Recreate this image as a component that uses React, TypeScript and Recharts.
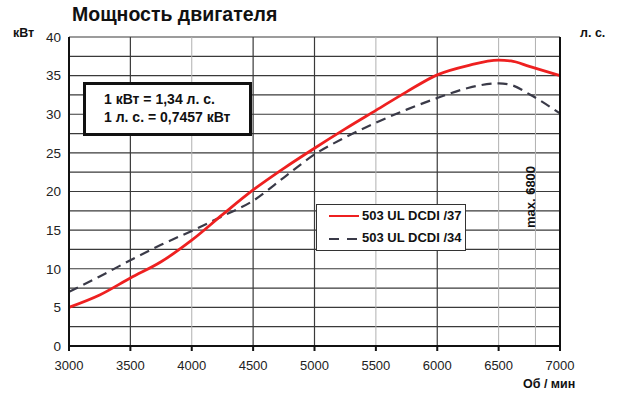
import React from "react";
import {
  LineChart,
  Line,
  XAxis,
  YAxis,
  ReferenceLine,
  ReferenceArea,
} from "recharts";

// rpm points
const rpm = [3000, 3250, 3500, 3750, 4000, 4250, 4500, 4750, 5000, 5250, 5500, 5750, 6000, 6250, 6500, 6600, 6750, 7000];
const dcdi37 = [5, 6.6, 8.8, 10.9, 13.7, 17, 20.2, 23, 25.6, 28.1, 30.5, 32.9, 35.1, 36.3, 37, 36.9, 36.2, 35];
const dcdi34 = [7, 9, 11.1, 13.1, 14.9, 16.8, 18.8, 21.8, 24.8, 27, 28.9, 30.6, 32.1, 33.4, 34, 33.8, 32.6, 30.1];

const xTicks = [3000, 3500, 4000, 4500, 5000, 5500, 6000, 6500, 7000];
const kwTicks = [0, 5, 10, 15, 20, 25, 30, 35, 40];
const hpTicks = [0, 5, 10, 15, 20, 25, 30, 35, 40, 45, 50];
const hGrid = [2.5, 5, 7.5, 10, 12.5, 15, 17.5, 20, 22.5, 25, 27.5, 30, 32.5, 35, 37.5, 40];
const darkV = [3500, 4500, 5000, 6000];
const lightV = [4000, 5500, 6500, 6800];

const data = rpm.map((r, i) => ({ rpm: r, a: dcdi37[i], b: dcdi34[i] }));

const font = "'Liberation Sans', Arial, sans-serif";

export default function App() {
  return (
    <div style={{ position: "absolute", left: 0, top: 0, width: 620, height: 409, background: "#fff", fontFamily: font }}>
      <LineChart width={620} height={409} data={data} margin={{ top: 37, right: 0, left: 9, bottom: 33 }}>
        {hGrid.map((v) => (
          <ReferenceLine key={"h" + v} yAxisId="kw" y={v} stroke="#3a3a3a" strokeWidth={1.2} />
        ))}
        {darkV.map((v) => (
          <ReferenceLine key={"d" + v} yAxisId="kw" x={v} stroke="#3a3a3a" strokeWidth={1.2} />
        ))}
        {lightV.map((v) => (
          <ReferenceLine key={"l" + v} yAxisId="kw" x={v} stroke="#b0b0b0" strokeWidth={1} />
        ))}
        <ReferenceArea yAxisId="kw" x1={6650} x2={6985} y1={11.5} y2={23.8} fill="#fff" fillOpacity={1} stroke="none" />
        <XAxis
          dataKey="rpm"
          type="number"
          domain={[3000, 7000]}
          ticks={xTicks}
          tickSize={5}
          tickMargin={10}
          stroke="#111"
          strokeWidth={2}
          tick={{ fill: "#222", fontSize: 13, fontFamily: font }}
          height={30}
        />
        <YAxis
          yAxisId="kw"
          orientation="left"
          domain={[0, 40]}
          ticks={kwTicks}
          width={60}
          tickLine={false}
          tickSize={4}
          tickMargin={4}
          stroke="#111"
          strokeWidth={2}
          tick={{ fill: "#222", fontSize: 13.5, fontFamily: font }}
        />
        <YAxis
          yAxisId="hp"
          orientation="right"
          domain={[0, 54.6]}
          ticks={hpTicks}
          width={60}
          tickSize={5}
          tickMargin={7}
          stroke="#111"
          strokeWidth={2}
          tick={{ fill: "#222", fontSize: 13.5, fontFamily: font, textAnchor: "start" }}
        />
        <Line yAxisId="kw" dataKey="b" type="monotone" stroke="#3a3a48" strokeWidth={2.2} strokeDasharray="10 6" dot={false} isAnimationActive={false} />
        <Line yAxisId="kw" dataKey="a" type="monotone" stroke="#ee2020" strokeWidth={2.8} dot={false} isAnimationActive={false} />
      </LineChart>

      <div style={{ position: "absolute", left: 72, top: 3, fontSize: 19.5, fontWeight: "bold", color: "#111", whiteSpace: "nowrap" }}>Мощность двигателя</div>
      <div style={{ position: "absolute", left: 13, top: 26, fontSize: 12.5, fontWeight: "bold", color: "#111" }}>кВт</div>
      <div style={{ position: "absolute", left: 580, top: 26, fontSize: 12.5, fontWeight: "bold", color: "#111", whiteSpace: "nowrap" }}>л. с.</div>
      <div style={{ position: "absolute", left: 523, top: 377, fontSize: 12.5, fontWeight: "bold", color: "#111", whiteSpace: "nowrap" }}>Об / мин</div>

      <div
        style={{
          position: "absolute", left: 83, top: 82, width: 163, height: 48,
          border: "3px solid #111", background: "#fff", fontSize: 14, fontWeight: "bold", color: "#111",
          boxSizing: "content-box", whiteSpace: "nowrap",
        }}
      >
        <div style={{ position: "absolute", left: 18, top: 6 }}>1 кВт = 1,34 л. с.</div>
        <div style={{ position: "absolute", left: 18, top: 24 }}>1 л. с. = 0,7457 кВт</div>
      </div>

      <div
        style={{
          position: "absolute", left: 316, top: 204, width: 148, height: 45,
          border: "1.5px solid #333", background: "#fff", fontSize: 13, fontWeight: "bold", color: "#111",
          whiteSpace: "nowrap",
        }}
      >
        <div style={{ position: "absolute", left: 12, top: 10, width: 30, height: 0, borderTop: "2.5px solid #ee2020" }} />
        <div style={{ position: "absolute", left: 45, top: 3 }}>503 UL DCDI /37</div>
        <svg style={{ position: "absolute", left: 12, top: 32 }} width={32} height={4}>
          <line x1={0} y1={2} x2={32} y2={2} stroke="#3a3a48" strokeWidth={2.2} strokeDasharray="10 8" />
        </svg>
        <div style={{ position: "absolute", left: 45, top: 25 }}>503 UL DCDI /34</div>
      </div>

      <div
        style={{
          position: "absolute", left: 530, top: 197, fontSize: 13, fontWeight: "bold", color: "#111",
          transform: "translate(-50%, -50%) rotate(-90deg)", whiteSpace: "nowrap",
        }}
      >
        max. 6800
      </div>
    </div>
  );
}
